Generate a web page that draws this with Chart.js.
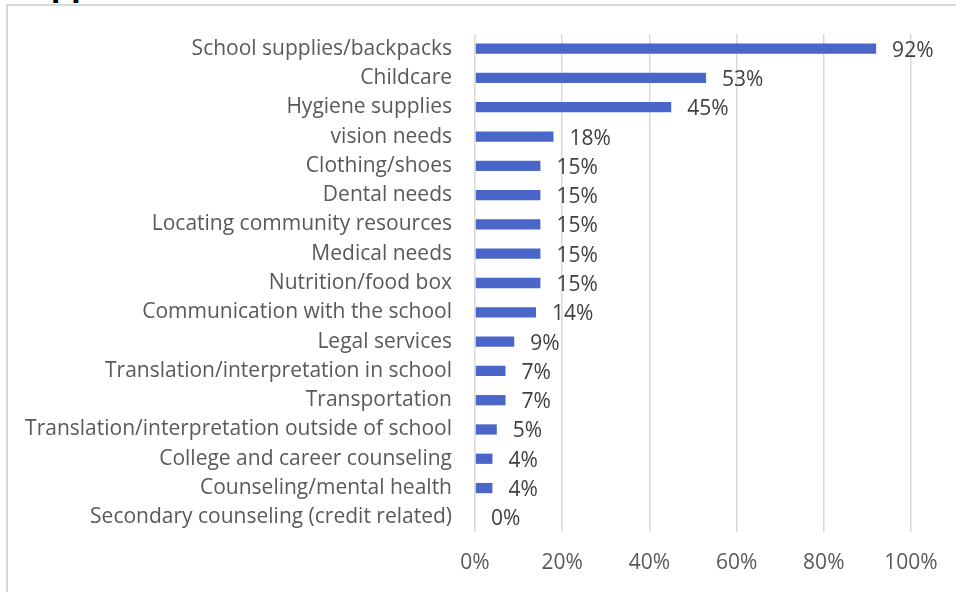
<!DOCTYPE html>
<html>
<head>
<meta charset="utf-8">
<script src="https://cdn.jsdelivr.net/npm/chart.js@4"></script>
<style>
	html, body { margin: 0; padding: 0; background: #fff; overflow: hidden; }
	.wrap { position: relative; width: 956px; height: 592px; overflow: hidden; }
	.title { position: absolute; left: 12px; top: -36px; font: bold 32px "Open Sans", sans-serif; line-height: 38px; color: #000; white-space: nowrap; }
	.frame { position: absolute; left: 6px; top: 4px; width: 1000px; height: 700px; border: 2px solid #d9d9d9; box-sizing: border-box; }
	#supports-bar-chart { position: absolute; left: 0; top: 0; }
</style>
</head>
<body>
<div class="wrap">
	<div class="title">Supports Needed</div>
	<div class="frame"></div>
	<canvas id="supports-bar-chart" width="956" height="592"></canvas>
</div>
<script>
const categories = [
	'School supplies/backpacks',
	'Childcare',
	'Hygiene supplies',
	'vision needs',
	'Clothing/shoes',
	'Dental needs',
	'Locating community resources',
	'Medical needs',
	'Nutrition/food box',
	'Communication with the school',
	'Legal services',
	'Translation/interpretation in school',
	'Transportation',
	'Translation/interpretation outside of school',
	'College and career counseling',
	'Counseling/mental health',
	'Secondary counseling (credit related)'
];
const percent_values = [92, 53, 45, 18, 15, 15, 15, 15, 15, 14, 9, 7, 7, 5, 4, 4, 0];
const x_ticks = [0, 20, 40, 60, 80, 100];

const label_font = { family: 'Open Sans', size: 21 };

//write the percentage just past the end of each bar
const valueLabels = {
	id: 'valueLabels',
	afterDatasetsDraw(chart) {
		const ctx = chart.ctx;
		const meta = chart.getDatasetMeta(0);
		ctx.save();
		ctx.font = `${label_font.size}px ${label_font.family}`;
		ctx.fillStyle = '#404040';
		ctx.textAlign = 'left';
		ctx.textBaseline = 'middle';
		meta.data.forEach((bar, i) => {
			ctx.fillText(percent_values[i] + '%', bar.x + 16, bar.y + 2);
		});
		ctx.restore();
	}
};

const ctx = document.getElementById('supports-bar-chart').getContext('2d');

new Chart(ctx, {
	type: 'bar',
	data: {
		labels: categories,
		datasets: [{
			data: percent_values,
			backgroundColor: '#4a66c9',
			borderWidth: 0,
			barPercentage: 0.35,
			categoryPercentage: 1
		}]
	},
	options: {
		indexAxis: 'y',
		responsive: false,
		animation: false,
		layout: { padding: { top: 34, right: 45, left: 0, bottom: 0 } },
		plugins: {
			legend: { display: false },
			tooltip: { enabled: false }
		},
		scales: {
			x: {
				min: 0,
				max: 100,
				afterBuildTicks: (scale) => { scale.ticks = x_ticks.map(v => ({ value: v })); },
				afterFit: (scale) => { scale.height = 60; },
				grid: { color: '#d9d9d9', lineWidth: 1.5, drawTicks: false },
				border: { display: false },
				ticks: {
					padding: 18,
					color: '#595959',
					font: label_font,
					callback: (v) => v + '%'
				}
			},
			y: {
				afterFit: (scale) => { scale.width = 475; },
				grid: { display: false },
				border: { display: false },
				ticks: {
					padding: 15,
					color: '#595959',
					font: label_font,
					autoSkip: false
				}
			}
		}
	},
	plugins: [valueLabels]
});
</script>
</body>
</html>
